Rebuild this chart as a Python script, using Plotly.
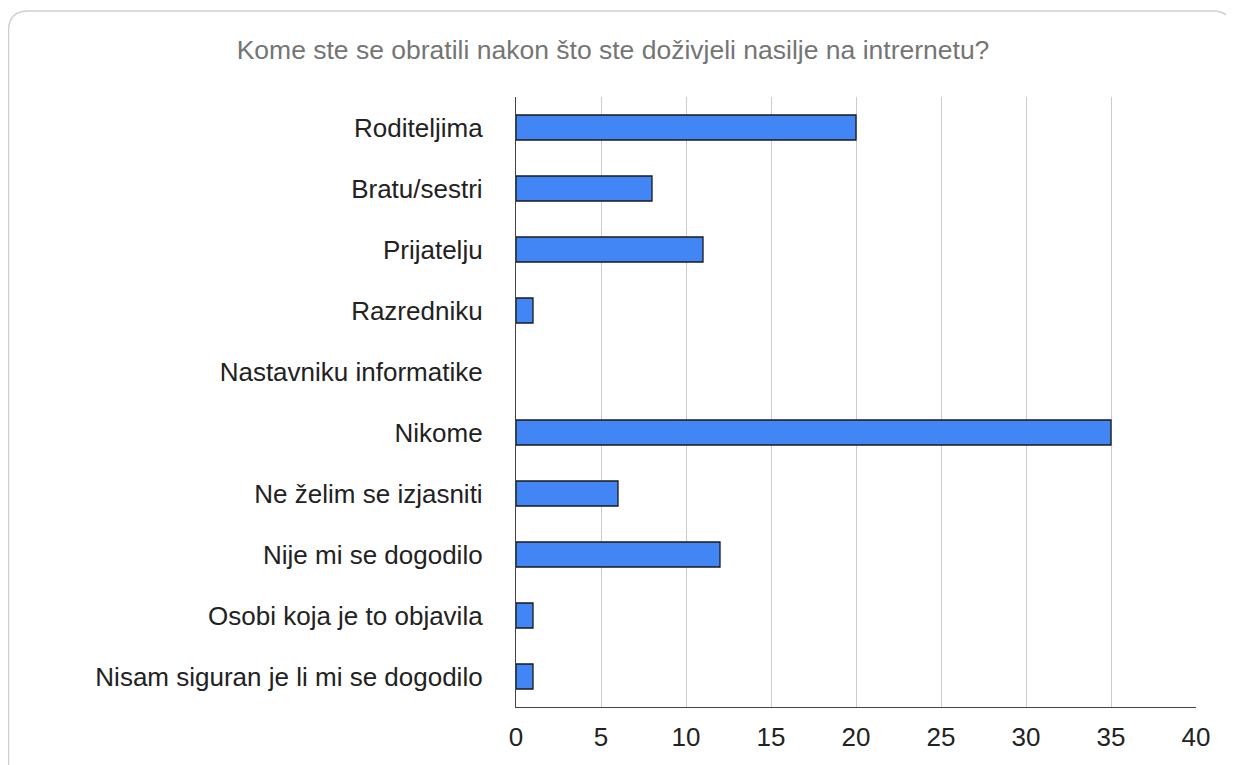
import plotly.graph_objects as go

categories = [
    "Roditeljima",
    "Bratu/sestri",
    "Prijatelju",
    "Razredniku",
    "Nastavniku informatike",
    "Nikome",
    "Ne želim se izjasniti",
    "Nije mi se dogodilo",
    "Osobi koja je to objavila",
    "Nisam siguran je li mi se dogodilo",
]
values = [20, 8, 11, 1, 0, 35, 6, 12, 1, 1]
x_ticks = [0, 5, 10, 15, 20, 25, 30, 35, 40]
title_text = "Kome ste se obratili nakon što ste doživjeli nasilje na intrernetu?"

W, H = 1234, 765
OFF = 8  # page body margin offset
# plot area in screen coordinates: left 516, right 1196, top 97, bottom 707
L = 516 - OFF
T = 97 - OFF
R = W - (1196 - OFF)
B = H - (707 - OFF)
pw, ph = W - L - R, H - T - B


def px(sx):
    return (sx - OFF - L) / pw


def py(sy):
    return (H - B - (sy - OFF)) / ph


fig = go.Figure()
fig.add_trace(go.Bar(
    y=categories,
    x=values,
    orientation="h",
    marker=dict(
        color="#4285f4",
        line=dict(color="#1a1a1a", width=[1.3 if v > 0 else 0 for v in values]),
    ),
    hoverinfo="x+y",
))

# rounded outer border of the chart card (screen coordinates)
x0, x1, y0, y1, r = 8.5, 1232.5, 11, 800, 20
path = (
    f"M {px(x0)},{py(y0 + r)} "
    f"Q {px(x0)},{py(y0)} {px(x0 + r)},{py(y0)} "
    f"L {px(x1 - r)},{py(y0)} "
    f"Q {px(x1)},{py(y0)} {px(x1)},{py(y0 + r)} "
    f"L {px(x1)},{py(y1)} L {px(x0)},{py(y1)} Z"
)
fig.add_shape(type="path", path=path, xref="paper", yref="paper",
              line=dict(color="#d0d0d0", width=1.5), layer="below")

fig.update_layout(
    width=W,
    height=H,
    margin=dict(l=L, r=R, t=T, b=B),
    paper_bgcolor="white",
    plot_bgcolor="white",
    showlegend=False,
    bargap=0.59,
    font=dict(family="Liberation Sans, Arial, sans-serif", size=26, color="#222222"),
    title=dict(
        text=title_text,
        x=(613 - OFF) / W, xanchor="center",
        y=1 - (50 - OFF) / H, yanchor="middle",
        font=dict(size=26.5, color="#757575", family="Liberation Sans, Arial, sans-serif"),
    ),
    xaxis=dict(
        range=[0, 40],
        tickvals=x_ticks,
        ticktext=[str(t) for t in x_ticks],
        showgrid=True,
        gridcolor="#cccccc",
        gridwidth=1,
        zeroline=False,
        showline=True,
        linecolor="#444444",
        linewidth=1.3,
        ticks="",
        ticklabelstandoff=7,
        tickfont=dict(size=26, color="#222222"),
        fixedrange=True,
    ),
    yaxis=dict(
        autorange="reversed",
        showline=True,
        linecolor="#444444",
        linewidth=1.3,
        showgrid=False,
        ticks="",
        ticklabelstandoff=27,
        tickfont=dict(size=26, color="#222222"),
        fixedrange=True,
    ),
)

fig.write_html("out.html")
